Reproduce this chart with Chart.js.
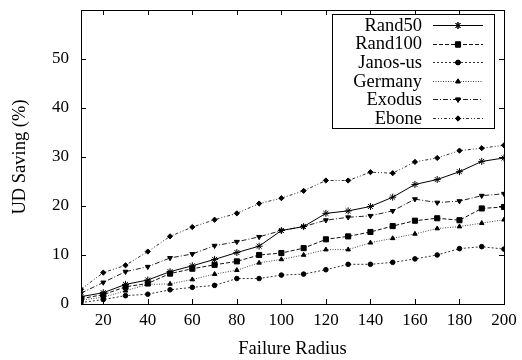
<!DOCTYPE html>
<html>
<head>
<meta charset="utf-8">
<script src="https://cdn.jsdelivr.net/npm/chart.js@4/dist/chart.umd.min.js"></script>
<style>
html,body{margin:0;padding:0;background:#fff;}
canvas{display:block;}
</style>
</head>
<body>
<canvas id="c" width="522" height="360"></canvas>
<script>
const radius = [10,20,30,40,50,60,70,80,90,100,110,120,130,140,150,160,170,180,190,200];
const rand50  = [1.5,2.3,4.0,4.9,6.6,7.8,9.1,10.5,11.8,15.0,15.8,18.5,19.0,19.9,21.8,24.4,25.4,27.0,29.1,29.8];
const rand100 = [1.1,1.9,3.5,4.2,6.2,7.2,8.0,8.7,10.0,10.4,11.4,13.2,13.8,14.7,15.9,17.0,17.5,17.1,19.5,19.8];
const janosUs = [0.3,0.9,1.7,2.0,2.9,3.4,3.8,5.2,5.2,5.9,6.1,7.0,8.1,8.1,8.5,9.2,10.0,11.3,11.7,11.2];
const germany = [0.8,1.4,2.7,4.0,4.1,5.0,6.1,6.9,8.4,9.1,10.0,11.1,11.1,12.5,13.4,14.3,15.4,15.8,16.5,17.2];
const exodus  = [2.2,4.4,6.6,7.6,9.4,10.2,11.9,12.7,13.7,15.0,15.8,17.1,17.7,18.0,19.0,21.4,20.7,21.0,22.1,22.5];
const ebone   = [3.0,6.4,7.9,10.7,13.8,15.7,17.2,18.5,20.5,21.6,23.1,25.2,25.2,26.9,26.7,29.0,29.8,31.3,31.8,32.4];
const xTicks = [20,40,60,80,100,120,140,160,180,200];
const yTicks = [0,10,20,30,40,50,60];
const seriesNames = ['Rand50','Rand100','Janos-us','Germany','Exodus','Ebone'];
const seriesValues = [rand50,rand100,janosUs,germany,exodus,ebone];

const FONT = '"Liberation Serif", "Times New Roman", serif';
const styles = [
  {dash:[], color:'#000', pt:'star', r:3.5, rot:0},
  {dash:[4,2], color:'#111', pt:'rect', r:3.6, rot:0},
  {dash:[2,2], color:'#333', pt:'circle', r:2.3, rot:0},
  {dash:[1,1.5], color:'#444', pt:'triangle', r:2.6, rot:0},
  {dash:[5,2,1,2], color:'#222', pt:'triangle', r:2.8, rot:180},
  {dash:[3,2,1,2,1,2], color:'#333', pt:'rectRot', r:2.6, rot:0}
];

const datasets = seriesNames.map((n,i)=>({
  label:n,
  data: radius.map((x,j)=>({x:x,y:seriesValues[i][j]})),
  borderColor: styles[i].color,
  borderWidth: 1,
  borderDash: styles[i].dash,
  pointStyle: styles[i].pt,
  pointRadius: styles[i].r,
  pointRotation: styles[i].rot,
  pointBackgroundColor:'#000',
  pointBorderColor:'#000',
  pointBorderWidth:1,
  fill:false,
  tension:0
}));

function drawPt(ctx, style, r, rot, x, y){
  if (Chart.helpers && Chart.helpers.drawPoint) {
    ctx.save();
    ctx.fillStyle='#000'; ctx.strokeStyle='#000'; ctx.lineWidth=1; ctx.setLineDash([]);
    Chart.helpers.drawPoint(ctx, {pointStyle:style, radius:r, rotation:rot, borderWidth:1}, x, y);
    ctx.fill(); ctx.stroke();
    ctx.restore();
  }
}

const framePlugin = {
  id:'frame',
  afterDraw(chart){
    const ctx = chart.ctx, a = chart.chartArea;
    const xs = chart.scales.x, ys = chart.scales.y;
    ctx.save();
    ctx.strokeStyle='#000'; ctx.lineWidth=1; ctx.setLineDash([]);
    ctx.strokeRect(Math.round(a.left)+0.5, Math.round(a.top)+0.5, Math.round(a.right-a.left), Math.round(a.bottom-a.top));
    const L=5;
    ctx.beginPath();
    xTicks.forEach(v=>{
      const px = Math.round(xs.getPixelForValue(v))+0.5;
      ctx.moveTo(px,a.bottom); ctx.lineTo(px,a.bottom-L);
      ctx.moveTo(px,a.top); ctx.lineTo(px,a.top+L);
    });
    yTicks.forEach(v=>{
      const py = Math.round(ys.getPixelForValue(v))+0.5;
      ctx.moveTo(a.left,py); ctx.lineTo(a.left+L,py);
      ctx.moveTo(a.right,py); ctx.lineTo(a.right-L,py);
    });
    ctx.stroke();
    // legend
    const bx = a.right-172, by = a.top+4, bw = 162, bh = 114;
    ctx.fillStyle='#fff';
    ctx.fillRect(bx,by,bw,bh);
    ctx.strokeRect(Math.round(bx)+0.5, Math.round(by)+0.5, bw, bh);
    ctx.font = '18.5px '+FONT;
    ctx.textAlign='right'; ctx.textBaseline='middle';
    chart.data.datasets.forEach((d,i)=>{
      const y = by + 11 + i*18.6;
      ctx.fillStyle='#000';
      ctx.fillText(d.label, bx+90, y+1);
      ctx.beginPath();
      ctx.strokeStyle = d.borderColor;
      ctx.setLineDash(d.borderDash);
      ctx.moveTo(bx+101, Math.round(y)+0.5); ctx.lineTo(bx+151, Math.round(y)+0.5);
      ctx.stroke();
      ctx.setLineDash([]);
      drawPt(ctx, d.pointStyle, d.pointRadius, d.pointRotation, bx+126, Math.round(y)+0.5);
    });
    ctx.restore();
  }
};

new Chart(document.getElementById('c'), {
  type:'line',
  data:{datasets:datasets},
  plugins:[framePlugin],
  options:{
    responsive:false,
    animation:false,
    devicePixelRatio:1,
    layout:{padding:{left:0,right:18,top:10,bottom:0}},
    plugins:{legend:{display:false}, tooltip:{enabled:false}},
    scales:{
      x:{
        type:'linear', min:10, max:200,
        afterBuildTicks(s){ s.ticks = xTicks.map(v=>({value:v})); },
        afterFit(s){ s.height = 56; s.paddingLeft=0; s.paddingRight=0; },
        grid:{display:false, drawTicks:false},
        border:{display:false},
        ticks:{color:'#000', font:{family:FONT,size:17}, padding:6, maxRotation:0, autoSkip:false},
        title:{display:true, text:'Failure Radius', color:'#000', font:{family:FONT,size:18.5}, padding:{top:2,bottom:0}}
      },
      y:{
        type:'linear', min:0, max:60,
        afterBuildTicks(s){ s.ticks = yTicks.map(v=>({value:v})); },
        afterFit(s){ s.width = 81; s.paddingTop=0; s.paddingBottom=0; },
        grid:{display:false, drawTicks:false},
        border:{display:false},
        ticks:{color:'#000', font:{family:FONT,size:17}, padding:12, callback:(v)=> v===60 ? '' : String(v)},
        title:{display:true, text:'UD Saving (%)', color:'#000', font:{family:FONT,size:18.5}, padding:{top:9,bottom:4}}
      }
    }
  }
});
</script>
</body>
</html>
